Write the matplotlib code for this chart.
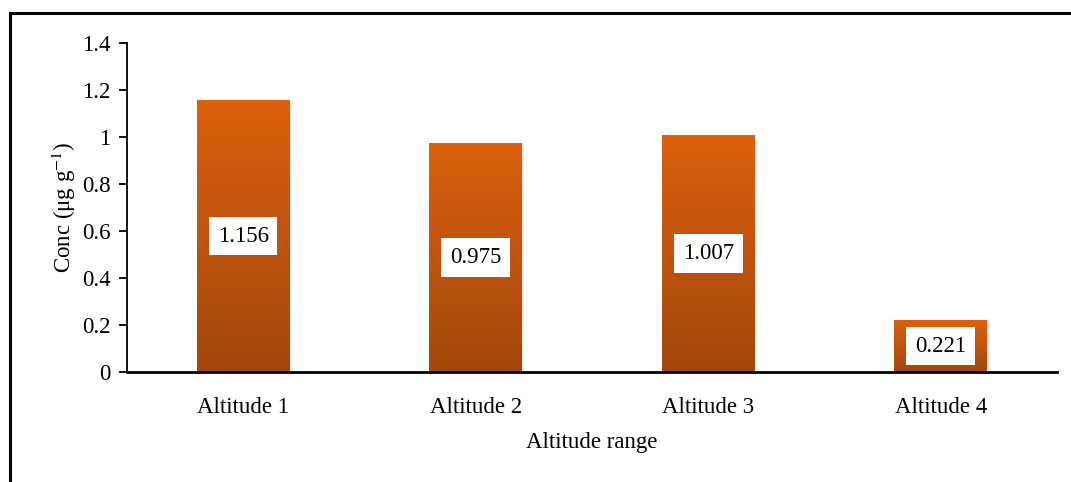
import numpy as np
import matplotlib
matplotlib.use("Agg")
import matplotlib.pyplot as plt
from matplotlib.colors import LinearSegmentedColormap
from matplotlib.lines import Line2D

categories = ["Altitude 1", "Altitude 2", "Altitude 3", "Altitude 4"]
values = [1.156, 0.975, 1.007, 0.221]
value_labels = ["1.156", "0.975", "1.007", "0.221"]
y_ticks = [0, 0.2, 0.4, 0.6, 0.8, 1.0, 1.2, 1.4]
y_tick_labels = ["0", "0.2", "0.4", "0.6", "0.8", "1", "1.2", "1.4"]

plt.rcParams["font.family"] = ["Liberation Serif", "DejaVu Serif"]
plt.rcParams["mathtext.fontset"] = "stix"

FS = 16.5
W, H = 1071, 482
fig = plt.figure(figsize=(W / 100, H / 100), dpi=100)

# frame around the chart area
fig.add_artist(Line2D([10 / W, 1.0], [1 - 13 / H, 1 - 13 / H], color="black", lw=2.2,
                      transform=fig.transFigure))
fig.add_artist(Line2D([10 / W, 10 / W], [1 - 13 / H, 0.0], color="black", lw=2.2,
                      transform=fig.transFigure))

ax = fig.add_axes([127 / W, 1 - 372 / H, (1057 - 127) / W, (372 - 43) / H])

x = np.arange(len(categories))
bars = ax.bar(x, values, width=0.4, color="none", edgecolor="none", zorder=2)

cmap = LinearSegmentedColormap.from_list("bar_grad", ["#a2470c", "#dc610d"])
grad = np.linspace(0, 1, 256).reshape(-1, 1)
for b in bars:
    x0, y0 = b.get_x(), b.get_y()
    w, h = b.get_width(), b.get_height()
    # soft shadow on the right
    ax.bar(x0 + w / 2 + 0.006, h, width=w, bottom=0, color="#d9d9d9", zorder=1.5, alpha=0.6)
    im = ax.imshow(grad, cmap=cmap, aspect="auto", origin="lower",
                   extent=[x0, x0 + w, y0, y0 + h], zorder=2.5)
    im.set_clip_path(b)

for xi, v, lab in zip(x, values, value_labels):
    ax.text(xi, v / 2, lab, ha="center", va="center", fontsize=FS, zorder=4,
            bbox=dict(boxstyle="square,pad=0.38", facecolor="white", edgecolor="none"))

ax.set_xlim(-0.5, len(categories) - 0.5)
ax.set_ylim(0, 1.4)
ax.set_yticks(y_ticks)
ax.set_yticklabels(y_tick_labels, fontsize=FS)
ax.set_xticks(x)
ax.set_xticklabels(categories, fontsize=FS)
ax.tick_params(axis="x", length=0, pad=18)
ax.tick_params(axis="y", direction="out", length=6, width=1.3, pad=6)

for s in ["top", "right"]:
    ax.spines[s].set_visible(False)
ax.spines["left"].set_linewidth(1.3)
ax.spines["bottom"].set_linewidth(2.0)
ax.spines["bottom"].set_zorder(5)

ax.set_ylabel(r"Conc (μg g$^{-1}$)", fontsize=FS, labelpad=3)
ax.set_xlabel("Altitude range", fontsize=FS, labelpad=10)

fig.savefig("out.png", dpi=100)
